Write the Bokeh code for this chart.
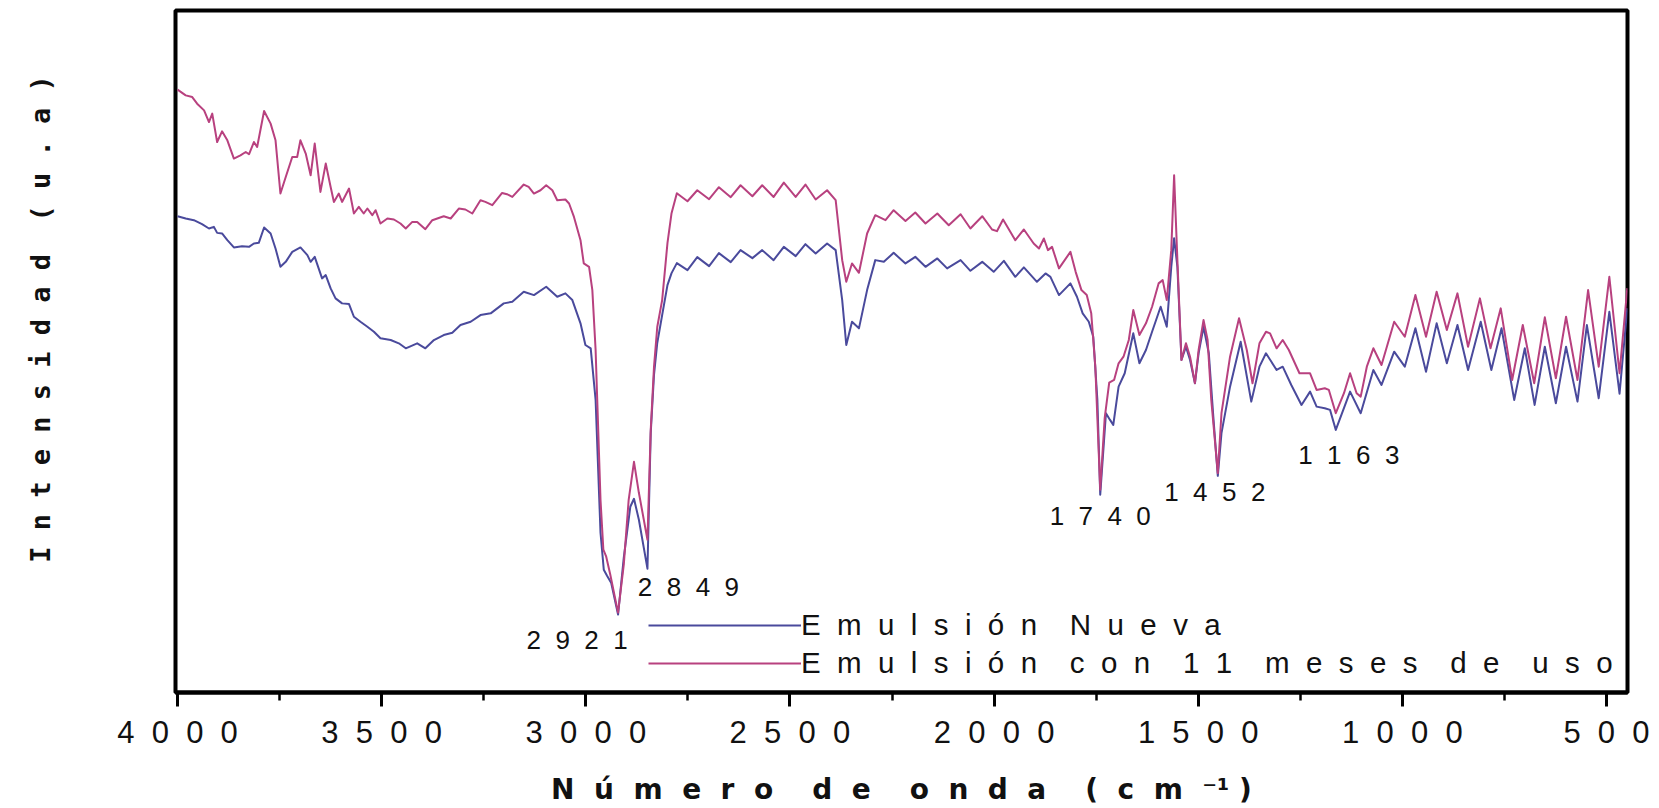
from bokeh.plotting import figure
from bokeh.models import Range1d, FixedTicker, Legend, LegendItem, Label
from bokeh.embed import file_html
from bokeh.resources import INLINE

# FTIR spectra (wavenumber in cm^-1, intensity in arbitrary units)
wn_nueva = [
    4000, 3980, 3960, 3940, 3923, 3911, 3903, 3891, 3878, 3862, 3842, 3825, 3813, 3801,
    3788, 3772, 3760, 3748, 3735, 3719, 3699, 3682, 3674, 3664, 3646, 3637, 3625, 3613,
    3597, 3580, 3568, 3552, 3535, 3519, 3503, 3478, 3458, 3441, 3413, 3393, 3372, 3348,
    3327, 3307, 3282, 3258, 3233, 3201, 3180, 3152, 3127, 3097, 3070, 3050, 3033, 3013,
    3001, 2988, 2976, 2964, 2956, 2948, 2938, 2921, 2907, 2891, 2882, 2870, 2849, 2841,
    2833, 2825, 2813, 2800, 2790, 2777, 2751, 2727, 2698, 2674, 2645, 2621, 2592, 2568,
    2540, 2515, 2486, 2462, 2437, 2409, 2388, 2372, 2362, 2348, 2331, 2311, 2291, 2270,
    2246, 2217, 2193, 2168, 2139, 2115, 2082, 2058, 2029, 2001, 1976, 1948, 1927, 1895,
    1874, 1862, 1841, 1813, 1797, 1783, 1768, 1757, 1747, 1740, 1726, 1716, 1708, 1695,
    1680, 1659, 1644, 1628, 1613, 1592, 1577, 1566, 1559, 1551, 1541, 1530, 1520, 1508,
    1499, 1487, 1474, 1463, 1452, 1443, 1422, 1396, 1370, 1350, 1334, 1308, 1293, 1272,
    1247, 1226, 1210, 1190, 1177, 1163, 1128, 1102, 1071, 1051, 1020, 994, 968, 942,
    916, 891, 865, 839, 808, 782, 757, 726, 700, 676, 651, 624, 599, 571, 548, 519,
    493, 468, 449,
]
int_nueva = [
    477.0, 474.7, 473.0, 469.0, 464.7, 466.3, 460.3, 459.7, 453.0, 445.7, 447.0, 446.3, 449.7, 450.3,
    465.7, 459.7, 444.7, 426.3, 431.3, 441.3, 445.7, 438.0, 431.3, 436.3, 414.7, 418.0, 404.7, 394.7,
    389.7, 389.0, 376.3, 371.3, 366.3, 361.3, 354.7, 353.0, 349.7, 344.7, 349.7, 344.7, 353.0, 358.0,
    360.3, 368.0, 371.3, 378.0, 379.7, 389.7, 391.3, 401.3, 398.0, 406.3, 396.3, 399.7, 393.0, 369.7,
    348.0, 344.7, 293.0, 160.0, 123.0, 117.0, 110.0, 78.0, 135.0, 186.0, 194.0, 173.0, 124.0, 260.0,
    318.0, 350.0, 378.0, 408.0, 420.0, 430.0, 423.0, 436.0, 427.0, 440.0, 431.0, 443.0, 435.0, 443.0,
    433.0, 446.3, 437.0, 449.0, 439.7, 449.7, 443.0, 393.0, 348.0, 371.3, 364.7, 403.0, 433.0, 431.3,
    440.3, 429.7, 436.3, 426.3, 434.7, 424.7, 433.0, 422.3, 431.3, 421.3, 432.3, 416.3, 425.7, 411.3,
    419.7, 416.3, 398.0, 409.7, 396.3, 379.7, 371.3, 356.3, 293.0, 198.0, 279.7, 273.0, 268.0, 306.3,
    319.7, 359.7, 329.7, 343.0, 361.3, 386.3, 366.3, 426.3, 455.0, 426.3, 333.0, 346.3, 333.0, 309.7,
    339.7, 366.3, 339.7, 276.3, 217.0, 259.7, 306.3, 351.3, 291.3, 326.3, 339.7, 323.0, 326.3, 308.0,
    288.0, 301.3, 286.3, 284.7, 283.0, 263.0, 301.3, 279.7, 323.0, 308.0, 341.3, 326.3, 364.7, 321.3,
    369.7, 329.7, 368.0, 323.0, 371.3, 323.0, 364.7, 293.0, 344.7, 288.0, 346.3, 289.7, 346.3, 291.3, 368.0, 294.7,
    381.3, 299.3, 385.0,
]

wn_usada = [
    4000, 3980, 3964, 3952, 3935, 3923, 3915, 3903, 3891, 3878, 3862, 3846, 3833, 3825,
    3813, 3805, 3788, 3772, 3760, 3748, 3735, 3719, 3707, 3699, 3686, 3674, 3664, 3650,
    3637, 3625, 3617, 3605, 3597, 3580, 3568, 3556, 3544, 3535, 3523, 3515, 3503, 3486,
    3470, 3454, 3441, 3425, 3413, 3393, 3376, 3348, 3331, 3311, 3295, 3278, 3258, 3246,
    3229, 3205, 3193, 3180, 3152, 3140, 3127, 3111, 3097, 3082, 3070, 3050, 3041, 3029,
    3013, 3005, 2992, 2984, 2976, 2972, 2964, 2957, 2950, 2940, 2921, 2907, 2895, 2882,
    2870, 2849, 2841, 2833, 2825, 2813, 2800, 2790, 2777, 2751, 2727, 2698, 2674, 2645,
    2621, 2592, 2568, 2540, 2515, 2486, 2462, 2437, 2409, 2388, 2372, 2362, 2348, 2331,
    2311, 2291, 2266, 2246, 2217, 2193, 2168, 2139, 2111, 2082, 2058, 2029, 2005, 1993,
    1978, 1948, 1927, 1903, 1890, 1878, 1868, 1858, 1841, 1813, 1800, 1786, 1773, 1762,
    1752, 1740, 1729, 1718, 1706, 1695, 1683, 1670, 1659, 1644, 1628, 1613, 1597, 1587,
    1577, 1566, 1559, 1551, 1541, 1530, 1520, 1508, 1499, 1487, 1477, 1468, 1452, 1443,
    1422, 1400, 1381, 1367, 1350, 1334, 1324, 1308, 1293, 1278, 1252, 1226, 1210, 1190,
    1180, 1163, 1143, 1128, 1112, 1102, 1087, 1071, 1051, 1020, 994, 968, 942, 916,
    891, 865, 839, 810, 784, 759, 731, 705, 677, 651, 624, 599, 571, 545, 519, 493,
    468, 449,
]
int_usada = [
    603.7, 598.0, 596.3, 589.7, 583.0, 571.3, 579.7, 551.3, 562.0, 553.0, 534.7, 538.0, 541.3, 539.0,
    551.3, 546.3, 582.3, 569.7, 553.0, 499.7, 516.3, 536.3, 536.3, 553.0, 539.7, 518.0, 549.7, 501.3,
    529.7, 506.3, 491.3, 499.7, 491.3, 504.7, 479.7, 486.3, 479.7, 484.7, 478.0, 483.0, 469.7, 474.7,
    473.7, 469.7, 464.7, 471.3, 471.3, 464.0, 473.0, 477.0, 474.7, 484.7, 483.7, 479.7, 493.0, 491.3,
    488.0, 500.3, 499.0, 496.3, 508.7, 506.3, 499.7, 503.0, 508.0, 503.0, 493.0, 493.7, 489.7, 476.3,
    453.0, 429.7, 426.3, 403.0, 343.0, 293.0, 193.0, 143.0, 136.0, 118.0, 80.0, 128.0, 193.0, 231.0,
    200.0, 153.0, 263.0, 326.0, 366.0, 393.0, 450.0, 480.0, 500.0, 492.0, 503.0, 494.0, 506.0, 496.0,
    508.0, 497.0, 508.0, 496.3, 510.7, 496.3, 508.7, 493.7, 503.0, 493.0, 433.0, 411.3, 429.7, 420.3,
    459.7, 478.0, 473.0, 483.0, 472.3, 480.7, 469.7, 479.7, 468.0, 479.0, 464.7, 477.0, 463.7, 462.0,
    473.7, 453.0, 463.7, 449.7, 444.7, 454.7, 443.0, 446.3, 424.7, 441.3, 421.0, 403.0, 398.0, 379.7,
    326.3, 203.0, 275.0, 310.3, 313.0, 329.7, 336.3, 353.0, 383.0, 358.0, 369.7, 386.3, 409.7, 413.0,
    393.0, 443.0, 518.0, 433.0, 333.0, 349.7, 336.3, 309.7, 343.0, 373.0, 353.0, 293.0, 219.7, 279.7,
    336.3, 374.7, 343.0, 309.7, 349.7, 361.3, 359.7, 344.7, 353.0, 343.0, 319.7, 319.7, 303.0, 304.7,
    303.0, 279.7, 299.7, 319.7, 299.7, 296.3, 326.3, 344.7, 328.0, 371.3, 356.3, 398.0, 356.3, 401.3,
    363.0, 399.7, 346.3, 394.7, 344.7, 384.7, 313.0, 368.0, 309.7, 375.7, 314.7, 376.3, 313.0, 403.0, 326.3, 416.3,
    319.7, 405.0,
]

series_names = ["Emulsión Nueva", "Emulsión con 11 meses de uso"]
tick_values = [4000, 3500, 3000, 2500, 2000, 1500, 1000, 500]
minor_tick_values = [3750, 3250, 2750, 2250, 1750, 1250, 750]
peak_wn = [2921, 2849, 1740, 1452, 1163]
x_title = "Número de onda"
y_title = "Intensidad (u.a)"

# where the band labels sit: height in axis units, horizontal shift in px
peak_label_y = [53, 106, 177, 201, 238]
peak_label_dx = [-41, 41, 0, -3, 13]

NB = "\u00a0"


def spaced(s, gap=2, word=4):
    """Letter-spaced text (non-breaking spaces so they are not collapsed)."""
    return (NB * word).join((NB * gap).join(w) for w in s.split(" "))


SANS = "Liberation Sans"

p = figure(
    width=1659, height=808,
    output_backend="svg", toolbar_location=None,
    x_range=Range1d(4005, 448.5), y_range=Range1d(0, 683),
    min_border_left=175, min_border_right=32, min_border_top=10, min_border_bottom=115,
)
p.grid.visible = False
p.background_fill_color = "white"
p.border_fill_color = "white"
p.outline_line_color = "black"
p.outline_line_width = 4

r_nueva = p.line(wn_nueva, int_nueva, line_color="#4a4a9c", line_width=2, line_join="round")
r_usada = p.line(wn_usada, int_usada, line_color="#b8417f", line_width=2, line_join="round")

# x axis: reversed wavenumber scale with outward ticks
xa = p.xaxis[0]
xa.ticker = FixedTicker(ticks=tick_values, minor_ticks=minor_tick_values)
xa.major_label_overrides = {t: spaced(str(t)) for t in tick_values}
xa.axis_line_color = "black"
xa.axis_line_width = 4
xa.major_tick_in = 0
xa.minor_tick_in = 0
xa.major_tick_out = 14
xa.minor_tick_out = 8
xa.major_tick_line_width = 3
xa.minor_tick_line_width = 2.5
xa.major_tick_line_color = "black"
xa.minor_tick_line_color = "black"
xa.major_label_standoff = 8
xa.major_label_text_font = SANS
xa.major_label_text_font_size = "31px"
xa.major_label_text_color = "#111111"
xa.axis_label = spaced(x_title) + NB * 4 + "(" + NB * 2 + "c" + NB * 2 + "m" + NB * 2 + "\u207b\u00b9" + NB + ")"
xa.axis_label_text_font = "DejaVu Sans"
xa.axis_label_text_font_style = "bold"
xa.axis_label_text_font_size = "28px"
xa.axis_label_text_color = "#111111"
xa.axis_label_standoff = 20

# y axis: title only (leading spaces lift the rotated title a little)
ya = p.yaxis[0]
ya.ticker = FixedTicker(ticks=[])
ya.axis_line_color = None
ya.major_tick_in = 0
ya.major_tick_out = 0
ya.minor_tick_in = 0
ya.minor_tick_out = 0
ya.major_label_standoff = 0
ya.axis_label = NB * 4 + spaced(y_title, gap=1, word=2)
ya.axis_label_text_font = "DejaVu Sans Mono"
ya.axis_label_text_font_style = "bold"
ya.axis_label_text_font_size = "27px"
ya.axis_label_text_color = "#111111"
ya.axis_label_standoff = 120

# band labels
for wn, ly, dx in zip(peak_wn, peak_label_y, peak_label_dx):
    p.add_layout(Label(
        x=wn, y=ly, x_offset=dx, text=spaced(str(wn)),
        text_font=SANS, text_font_size="26px", text_color="#111111",
        text_align="center", text_baseline="middle",
    ))

legend = Legend(
    items=[
        LegendItem(label=spaced(series_names[0]), renderers=[r_nueva]),
        LegendItem(label=spaced(series_names[1]), renderers=[r_usada]),
    ],
    location=(473, 10),
    glyph_width=153, glyph_height=38, label_height=38, label_standoff=0,
    spacing=0, padding=0, margin=0,
    border_line_alpha=0, background_fill_alpha=0,
    label_text_font=SANS, label_text_font_size="29.5px", label_text_color="#111111",
)
p.add_layout(legend)

open("out.html", "w").write(file_html(p, INLINE))
